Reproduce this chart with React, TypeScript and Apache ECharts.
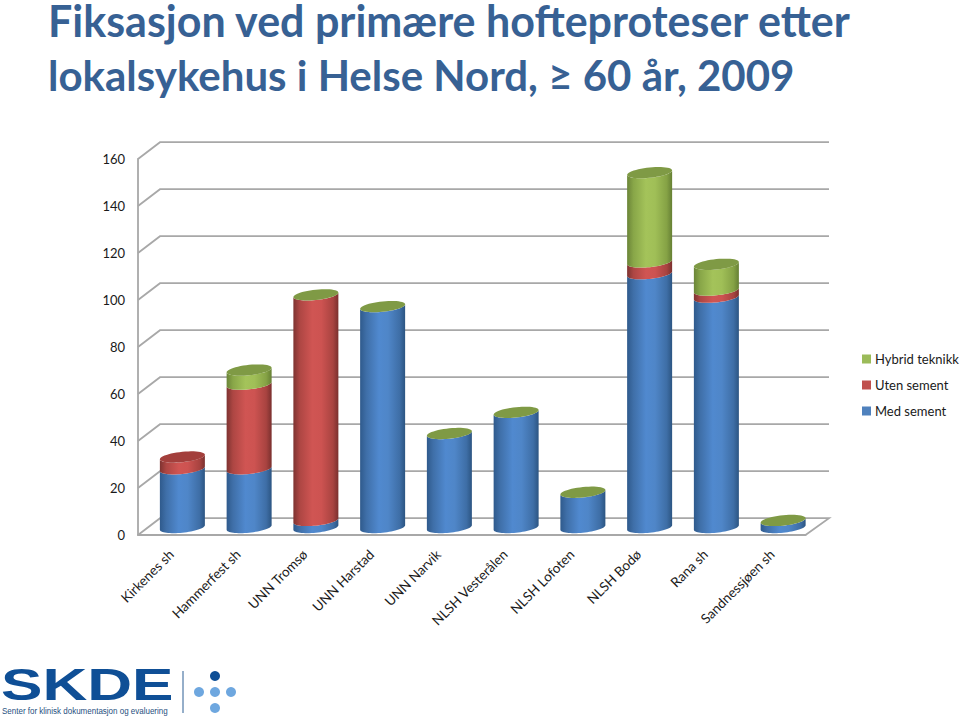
import React, { useEffect, useRef } from "react";
import * as echarts from "echarts";

const categories = [
  "Kirkenes sh",
  "Hammerfest sh",
  "UNN Tromsø",
  "UNN Harstad",
  "UNN Narvik",
  "NLSH Vesterålen",
  "NLSH Lofoten",
  "NLSH Bodø",
  "Rana sh",
  "Sandnessjøen sh",
];
const medSement = [25, 25, 3, 94, 40, 49, 15, 108, 98, 3];
const utenSement = [5, 36, 96, 0, 0, 0, 0, 5, 3, 0];
const hybridTeknikk = [0, 6, 0, 0, 0, 0, 0, 38, 11, 0];
const yTicks = [0, 20, 40, 60, 80, 100, 120, 140, 160];
const redCapCategories = ["Kirkenes sh"];

const TITLE_LINE_1 = "Fiksasjon ved primære hofteproteser etter";
const TITLE_LINE_2 = "lokalsykehus i Helse Nord, ≥ 60 år, 2009";

const WALL = "#a8a8a8";
const DEPTH_X = 22;
const DEPTH_Y = 16.8;
const BAR_DX = 11;
const BAR_DY = 7.5;
const HALF_W = 22.5;
const TILT = 0.1;
const MINOR = 5.2;

const palettes: Record<string, string[]> = {
  blue: ["#2f5a8c", "#3f6fa8", "#5089cf", "#4f86c8", "#3e6ea6", "#2c5582"],
  red: ["#7e3331", "#ad4643", "#d05553", "#cd5351", "#a84340", "#7a302e"],
  green: ["#6b8538", "#88a648", "#a4c35a", "#a0bf57", "#85a245", "#668034"],
};

function sideGradient(p: string[]) {
  return new echarts.graphic.LinearGradient(0, 0, 1, 0, [
    { offset: 0, color: p[0] },
    { offset: 0.14, color: p[1] },
    { offset: 0.42, color: p[2] },
    { offset: 0.62, color: p[3] },
    { offset: 0.88, color: p[4] },
    { offset: 1, color: p[5] },
  ]);
}

function rim(cx: number, cy: number, from: number, to: number, n = 32) {
  const out: number[][] = [];
  for (let i = 0; i <= n; i++) {
    const t = from + ((to - from) * i) / n;
    const c = Math.cos(t);
    out.push([cx + HALF_W * c, cy - HALF_W * TILT * c + MINOR * Math.sin(t)]);
  }
  return out;
}

function segmentSeries(name: string, color: string, paletteKey: string, values: number[], below: number[][], isTop: boolean) {
  const data = values.map((v, i) => {
    const start = below.reduce((sum, s) => sum + s[i], 0);
    return [i, start, start + v];
  });
  return {
    name,
    type: "custom",
    coordinateSystem: "cartesian2d",
    itemStyle: { color },
    encode: { x: 0, y: 2 },
    z: 3,
    data,
    renderItem(_: any, api: any) {
      const idx = api.value(0);
      const from = api.coord([idx, api.value(1)]);
      const to = api.coord([idx, api.value(2)]);
      const cx = from[0] + BAR_DX;
      const y0 = from[1] - BAR_DY;
      const y1 = to[1] - BAR_DY;
      const children: any[] = [];
      if (y0 - y1 > 0.01) {
        const pts = [...rim(cx, y0, Math.PI, 0), ...rim(cx, y1, 0, Math.PI)];
        children.push({
          type: "polygon",
          shape: { points: pts },
          style: { fill: sideGradient(palettes[paletteKey]) },
        });
      }
      if (isTop) {
        const red = redCapCategories.includes(categories[idx]);
        children.push({
          type: "polygon",
          shape: { points: rim(cx, y1, 0, Math.PI * 2, 48) },
          style: { fill: red ? "#a33f3c" : "#7f9a45" },
        });
      }
      return { type: "group", children };
    },
  };
}

const wallSeries = {
  type: "custom",
  coordinateSystem: "cartesian2d",
  silent: true,
  z: 1,
  encode: { x: 0, y: 1 },
  data: yTicks.map((t) => [0, t]),
  renderItem(params: any, api: any) {
    const y = api.coord([0, api.value(1)])[1];
    const { x, width } = params.coordSys;
    const pts = [
      [x, y],
      [x + DEPTH_X, y - DEPTH_Y],
      [x + width + DEPTH_X + 1.5, y - DEPTH_Y],
    ];
    if (api.value(1) === 0) pts.push([x + width, y]);
    return {
      type: "polyline",
      shape: { points: pts },
      style: { stroke: WALL, lineWidth: 1.8, fill: "none" },
    };
  },
};

const logoBlue = "#0f4f96";
const dotLight = "#6ea7df";
const logoGraphics = [
  {
    type: "text",
    x: 1,
    y: 662,
    scaleX: 1.38,
    style: { text: "SKDE", fill: logoBlue, font: "bold 45px 'Liberation Sans'" },
  },
  {
    type: "text",
    x: 2,
    y: 706,
    scaleX: 0.89,
    style: {
      text: "Senter for klinisk dokumentasjon og evaluering",
      fill: "#1f4f80",
      font: "9px 'Liberation Sans'",
    },
  },
  { type: "line", shape: { x1: 183, y1: 671, x2: 183, y2: 713 }, style: { stroke: "#2c5f94", lineWidth: 1 } },
  { type: "circle", shape: { cx: 215, cy: 676, r: 5 }, style: { fill: logoBlue } },
  { type: "circle", shape: { cx: 199, cy: 692, r: 5 }, style: { fill: dotLight } },
  { type: "circle", shape: { cx: 215, cy: 692, r: 5 }, style: { fill: dotLight } },
  { type: "circle", shape: { cx: 231, cy: 692, r: 5 }, style: { fill: dotLight } },
  { type: "circle", shape: { cx: 215, cy: 708, r: 5 }, style: { fill: dotLight } },
];

export default function App() {
  const ref = useRef<HTMLDivElement>(null);
  useEffect(() => {
    document.body.style.margin = "0";
    const chart = echarts.init(ref.current!, undefined, { renderer: "svg" });
    const titleRich = { fontFamily: "Lato", fontWeight: "bold", color: "#376194" };
    chart.setOption({
      animation: false,
      backgroundColor: "#ffffff",
      title: {
        text: `{a|${TITLE_LINE_1}}\n{b|${TITLE_LINE_2}}`,
        left: 48,
        top: 0,
        padding: 0,
        textStyle: {
          rich: {
            a: { ...titleRich, fontSize: 43, lineHeight: 40 },
            b: { ...titleRich, fontSize: 42, lineHeight: 70 },
          },
        },
      },
      grid: { left: 138, top: 159, width: 667.5, height: 376 },
      xAxis: {
        type: "category",
        data: categories,
        axisLine: { show: true, lineStyle: { color: WALL, width: 1.8 } },
        axisTick: { show: false },
        splitLine: { show: false },
        axisLabel: {
          interval: 0,
          rotate: 45,
          margin: 17,
          fontFamily: "Lato",
          fontSize: 13.5,
          color: "#1a1a1a",
        },
      },
      yAxis: {
        type: "value",
        min: 0,
        max: 160,
        interval: 20,
        axisLine: { show: true, lineStyle: { color: WALL, width: 1.8 } },
        axisTick: { show: false },
        splitLine: { show: false },
        axisLabel: { margin: 13, fontFamily: "Lato", fontSize: 13, color: "#1a1a1a" },
      },
      legend: {
        orient: "vertical",
        left: 862,
        top: 351,
        itemWidth: 9,
        itemHeight: 9,
        itemGap: 10,
        icon: "rect",
        selectedMode: false,
        padding: 0,
        textStyle: { fontFamily: "Lato", fontSize: 13, color: "#1a1a1a", padding: [0, 0, 0, -1], height: 16, lineHeight: 16 },
        data: ["Hybrid teknikk", "Uten sement", "Med sement"],
      },
      graphic: logoGraphics,
      series: [
        wallSeries,
        segmentSeries("Med sement", "#4f81bd", "blue", medSement, [], false),
        segmentSeries("Uten sement", "#c0504d", "red", utenSement, [medSement], false),
        segmentSeries("Hybrid teknikk", "#9bbb59", "green", hybridTeknikk, [medSement, utenSement], true),
      ],
    });
    return () => chart.dispose();
  }, []);
  return <div ref={ref} style={{ width: 960, height: 718 }} />;
}
